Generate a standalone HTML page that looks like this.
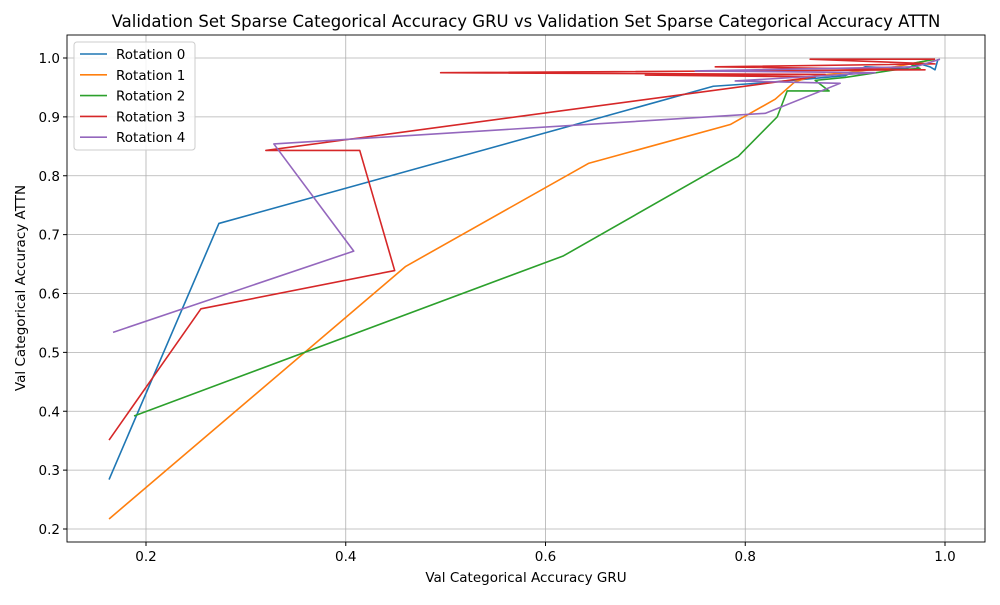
<!DOCTYPE html>
<html><head><meta charset="utf-8"><style>body{margin:0;background:#fff}svg{font-family:"DejaVu Sans","Liberation Sans",sans-serif}</style></head>
<body>
<svg id="c" width="1000" height="600"></svg>
<script>
const seriesNames=["Rotation 0","Rotation 1","Rotation 2","Rotation 3","Rotation 4"];
const colors=["#1f77b4","#ff7f0e","#2ca02c","#d62728","#9467bd"];
const xTicks=[0.2,0.4,0.6,0.8,1.0];
const yTicks=[0.2,0.3,0.4,0.5,0.6,0.7,0.8,0.9,1.0];
const rot0=[[0.163,0.284],[0.273,0.719],[0.768,0.952],[0.82,0.958],[0.9,0.97],[0.92,0.985],[0.96,0.982],[0.975,0.99],[0.985,0.985],[0.99,0.98],[0.993,0.998]];
const rot1=[[0.163,0.217],[0.46,0.646],[0.643,0.821],[0.785,0.887],[0.83,0.93],[0.85,0.96],[0.87,0.97],[0.9,0.975],[0.95,0.985],[0.99,0.998]];
const rot2=[[0.188,0.392],[0.618,0.664],[0.793,0.833],[0.832,0.9],[0.842,0.944],[0.884,0.944],[0.87,0.962],[0.9,0.967],[0.95,0.98],[0.975,0.982],[0.965,0.99],[0.99,0.998]];
const rot3=[[0.163,0.351],[0.255,0.574],[0.449,0.639],[0.414,0.843],[0.32,0.843],[0.87,0.968],[0.7,0.971],[0.88,0.972],[0.495,0.975],[0.98,0.98],[0.77,0.985],[0.99,0.99],[0.865,0.998],[0.99,0.998]];
const rot4=[[0.167,0.534],[0.408,0.672],[0.328,0.854],[0.82,0.906],[0.895,0.957],[0.79,0.961],[0.93,0.975],[0.75,0.978],[0.97,0.985],[0.98,0.99],[0.995,0.998]];
const allSeries=[rot0,rot1,rot2,rot3,rot4];
const L=67,R=985,T=35,B=542;
const xs=v=>146+(v-0.2)*998.75;
const ys=v=>529-(v-0.2)*588.75;
const NS="http://www.w3.org/2000/svg";
const svg=document.getElementById('c');
function mk(t,a,txt){const e=document.createElementNS(NS,t);for(const k in a)e.setAttribute(k,a[k]);if(txt!=null)e.textContent=txt;svg.appendChild(e);return e;}
xTicks.forEach(v=>{const x=xs(v);
const g=mk('line',{x1:x,x2:x,y1:T,y2:B,stroke:'#b0b0b0','stroke-width':0.8});


mk('line',{x1:x,x2:x,y1:B,y2:B+4,stroke:'#000'});
const t=mk('text',{x:x,y:B+19,'text-anchor':'middle','font-size':13.5},v.toFixed(1));

});
yTicks.forEach(v=>{const y=ys(v);
const g=mk('line',{x1:L,x2:R,y1:y,y2:y,stroke:'#b0b0b0','stroke-width':0.8});


mk('line',{x1:L-4,x2:L,y1:y,y2:y,stroke:'#000'});
const t=mk('text',{x:L-7,y:y+5,'text-anchor':'end','font-size':13.5},v.toFixed(1));

});
allSeries.forEach((s,i)=>{
const p=mk('polyline',{points:s.map(d=>xs(d[0])+','+ys(d[1])).join(' '),fill:'none',stroke:colors[i],'stroke-width':1.6,'stroke-linejoin':'round'});

});
const fr=mk('rect',{x:L,y:T,width:R-L,height:B-T,fill:'none',stroke:'#000','stroke-width':0.9});


const ti=mk('text',{x:526,y:27,'text-anchor':'middle','font-size':16.5},'Validation Set Sparse Categorical Accuracy GRU vs Validation Set Sparse Categorical Accuracy ATTN');


const xl=mk('text',{x:526,y:582,'text-anchor':'middle','font-size':13.5},'Val Categorical Accuracy GRU');


const yl=mk('text',{x:0,y:0,'text-anchor':'middle','font-size':13.5,transform:'translate(25,288) rotate(-90)'},'Val Categorical Accuracy ATTN');


const lg=mk('rect',{x:74,y:42,width:121,height:108,rx:3,fill:'#fff','fill-opacity':0.85,stroke:'#ccc'});


seriesNames.forEach((n,i)=>{const y=54+i*20.8;
mk('line',{x1:80,x2:107,y1:y,y2:y,stroke:colors[i],'stroke-width':1.6});
const t=mk('text',{x:116,y:y+5,'font-size':13.5},n);

});
</script>
</body></html>
